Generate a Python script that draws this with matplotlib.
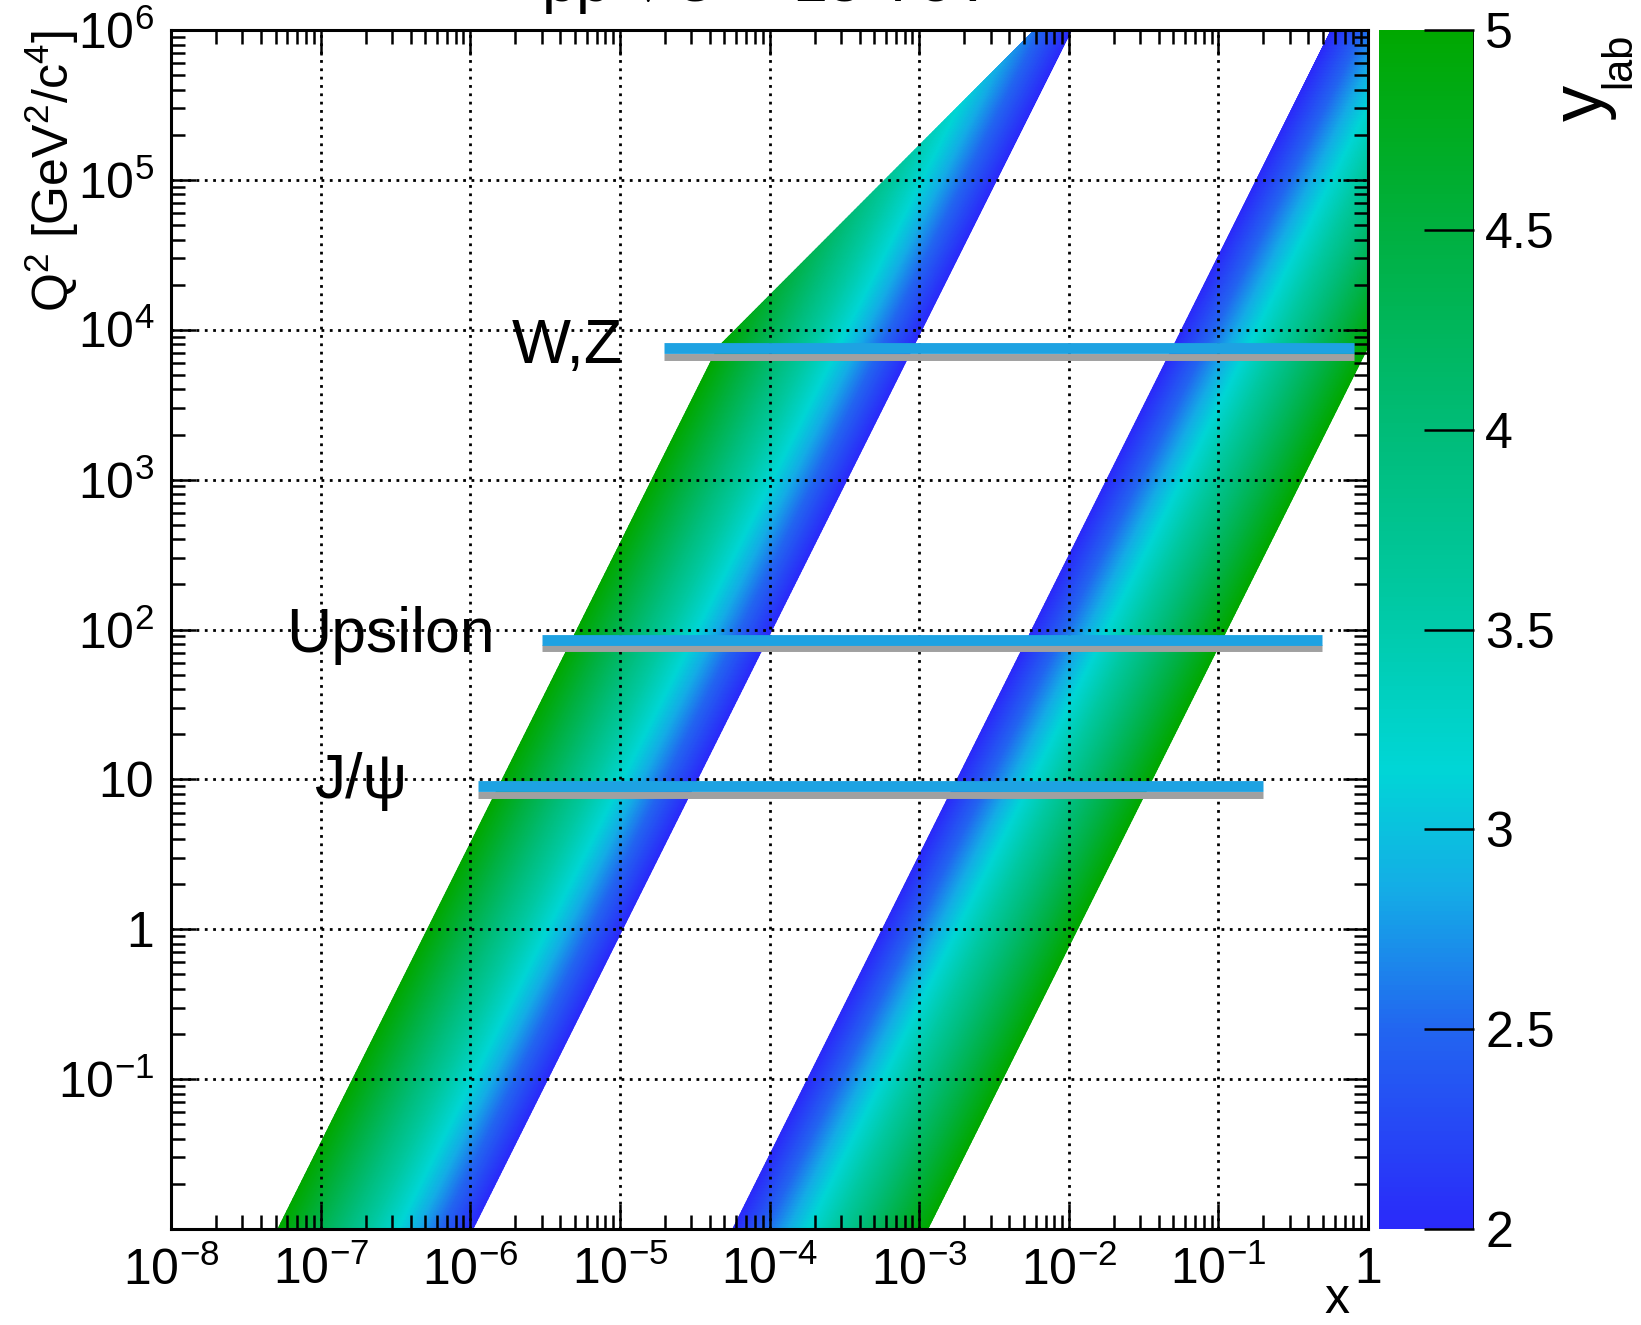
import numpy as np
import matplotlib
matplotlib.use('Agg')
import matplotlib.pyplot as plt
from matplotlib.colors import LinearSegmentedColormap
from matplotlib.ticker import FixedLocator, FixedFormatter, NullFormatter

plt.rcParams['font.family'] = ['Liberation Sans', 'DejaVu Sans']
plt.rcParams['mathtext.fontset'] = 'custom'
plt.rcParams['mathtext.rm'] = 'Liberation Sans'
plt.rcParams['mathtext.it'] = 'Liberation Sans:italic'
plt.rcParams['mathtext.bf'] = 'Liberation Sans:bold'

# kinematics
sqrt_s = 13000.0          # GeV
ylab_min, ylab_max = 2.0, 5.0

# probes: Q2 of the blue / grey bars and their x extent
probe_names = ['W,Z', 'Upsilon', 'J/ψ']
probe_q2_blue = [7570.0, 85.3, 8.98]
probe_q2_grey = [6580.0, 74.8, 7.82]
probe_xmin = [1.98e-5, 3.02e-6, 1.13e-6]
probe_xmax = [0.81, 0.494, 0.2]

x_ticks = [1e-8, 1e-7, 1e-6, 1e-5, 1e-4, 1e-3, 1e-2, 1e-1, 1]
x_tick_labels = [r'$\mathregular{10^{-8}}$', r'$\mathregular{10^{-7}}$', r'$\mathregular{10^{-6}}$',
                 r'$\mathregular{10^{-5}}$', r'$\mathregular{10^{-4}}$', r'$\mathregular{10^{-3}}$',
                 r'$\mathregular{10^{-2}}$', r'$\mathregular{10^{-1}}$', '1']
y_ticks = [1e-2, 1e-1, 1, 10, 1e2, 1e3, 1e4, 1e5, 1e6]
y_tick_labels = ['', r'$\mathregular{10^{-1}}$', '1', '10', r'$\mathregular{10^{2}}$',
                 r'$\mathregular{10^{3}}$', r'$\mathregular{10^{4}}$', r'$\mathregular{10^{5}}$',
                 r'$\mathregular{10^{6}}$']
cbar_ticks = [2, 2.5, 3, 3.5, 4, 4.5, 5]
cbar_tick_labels = ['2', '2.5', '3', '3.5', '4', '4.5', '5']

# palette (value -> colour)
pal_vals = [2.0, 2.5, 2.85, 3.15, 3.6, 4.0, 4.5, 5.0]
pal_cols = ['#2a2afa', '#2266f0', '#14ade6', '#00d6d6', '#00c8a0', '#00bc78', '#00b040', '#00a800']
cmap = LinearSegmentedColormap.from_list(
    'ylab', [((v - 2.0) / 3.0, c) for v, c in zip(pal_vals, pal_cols)])

W, H = 1641, 1325
fig = plt.figure(figsize=(W / 100, H / 100), dpi=100)
ax = fig.add_axes([171 / W, 1 - 1229 / H, (1368 - 171) / W, (1229 - 30) / H])

# bands: x = M/sqrt(s) * exp(-/+ y), y limited so that both x stay <= 1
q2 = np.logspace(-2, 6, 400)
m = np.sqrt(q2)
t = np.linspace(0, 1, 200)
y_hi = np.minimum(ylab_max, np.log(sqrt_s / m))
Y = ylab_min + np.outer(y_hi - ylab_min, t)
M = np.repeat(m[:, None], len(t), axis=1)
Q2 = M ** 2
x_lo = M / sqrt_s * np.exp(-Y)
x_hi = M / sqrt_s * np.exp(Y)

mesh = ax.pcolormesh(x_lo, Q2, Y, cmap=cmap, vmin=2, vmax=5, shading='gouraud', zorder=1)
ax.pcolormesh(x_hi, Q2, Y, cmap=cmap, vmin=2, vmax=5, shading='gouraud', zorder=1)

for i in range(len(probe_names)):
    ax.plot([probe_xmin[i], probe_xmax[i]], [probe_q2_grey[i]] * 2, color='#a0a0a0',
            lw=5.0, solid_capstyle='butt', zorder=3)
    ax.plot([probe_xmin[i], probe_xmax[i]], [probe_q2_blue[i]] * 2, color='#1ea2e2',
            lw=7.8, solid_capstyle='butt', zorder=4)

label_pos = [(10 ** -4.979, 10 ** 3.778), (10 ** -5.834, 10 ** 1.851), (10 ** -6.422, 10 ** 0.877)]
for name, (lx, ly) in zip(probe_names, label_pos):
    ax.text(lx, ly, name, ha='right', va='baseline', fontsize=45, zorder=5)

ax.set_xscale('log')
ax.set_yscale('log')
ax.set_xlim(1e-8, 1)
ax.set_ylim(1e-2, 1e6)

ax.xaxis.set_major_locator(FixedLocator(x_ticks))
ax.xaxis.set_major_formatter(FixedFormatter(x_tick_labels))
ax.yaxis.set_major_locator(FixedLocator(y_ticks))
ax.yaxis.set_major_formatter(FixedFormatter(y_tick_labels))
minors = [k * 10.0 ** e for e in range(-8, 6) for k in range(2, 10)]
ax.xaxis.set_minor_locator(FixedLocator([v for v in minors if v < 1]))
ax.yaxis.set_minor_locator(FixedLocator([v for v in minors if 1e-2 < v < 1e6]))
ax.xaxis.set_minor_formatter(NullFormatter())
ax.yaxis.set_minor_formatter(NullFormatter())

ax.tick_params(which='both', direction='in', top=True, right=True, width=1.8, labelsize=36)
ax.tick_params(which='major', length=18)
ax.tick_params(which='minor', length=10)
ax.tick_params(axis='x', which='major', pad=13)
ax.tick_params(axis='y', which='major', pad=12)

ax.grid(which='major', color='k', linestyle=(0, (1, 2)), linewidth=2.0)
ax.set_axisbelow(False)
for sp in ax.spines.values():
    sp.set_linewidth(2.2)
    sp.set_zorder(6)

# colour bar
cax = fig.add_axes([1379 / W, 1 - 1229 / H, (1474 - 1379) / W, (1229 - 30) / H])
cb = fig.colorbar(mesh, cax=cax, ticks=cbar_ticks)
cb.ax.set_yticklabels(cbar_tick_labels)
cb.outline.set_visible(False)
cax.axvline(1, color='k', lw=1.2)
cax.tick_params(direction='in', length=36, width=1.8, labelsize=36, pad=8)
cax.minorticks_off()

# texts
fig.text(541 / W, 1 - 2 / H, r'pp $\sqrt{s}$ = 13 TeV', fontsize=45,
         ha='left', va='baseline')
fig.text(52 / W, 1 - 30 / H, r'$\mathregular{Q^{2}\ [GeV^{2}/c^{4}]}$', rotation=90,
         fontsize=36, ha='center', va='top')
fig.text(1349 / W, 1 - 1313 / H, 'x', fontsize=36, ha='right', va='baseline')
# y_lab axis title, ROOT style (big y, large subscript)
fig.text(1602 / W, 1 - 121 / H, 'y', rotation=90, rotation_mode='anchor', fontsize=52,
         ha='left', va='baseline')
fig.text(1630 / W, 1 - 88 / H, 'lab', rotation=90, rotation_mode='anchor', fontsize=30,
         ha='left', va='baseline')

fig.savefig('out.png', dpi=100)
